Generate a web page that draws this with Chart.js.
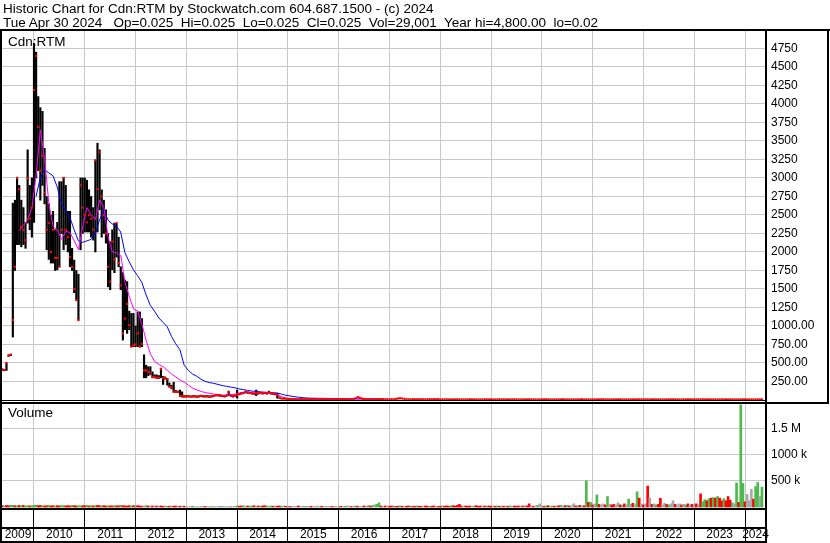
<!DOCTYPE html>
<html>
<head>
<meta charset="utf-8">
<title>Historic Chart for Cdn:RTM</title>
<script src="https://cdn.jsdelivr.net/npm/chart.js@4.4.1/dist/chart.umd.min.js"></script>
<style>
    body { margin: 0; background: #fff; }
    #wrap { position: relative; width: 830px; height: 543px; overflow: hidden; }
    #chart { position: absolute; left: 0; top: 0; }
    .txt { position: absolute; font: 13.5px 'Liberation Sans', Arial, sans-serif; line-height: 14px; color: #000; white-space: pre; }
</style>
</head>
<body>
<div id="wrap">
    <canvas id="chart" width="830" height="543"></canvas>
    <div class="txt" style="left:3px;top:2px">Historic Chart for Cdn:RTM by Stockwatch.com 604.687.1500 - (c) 2024
Tue Apr 30 2024   Op=0.025  Hi=0.025  Lo=0.025  Cl=0.025  Vol=29,001  Year hi=4,800.00  lo=0.02</div>
    <div class="txt" style="left:8px;top:35px">Cdn:RTM</div>
    <div class="txt" style="left:8px;top:406px">Volume</div>
</div>
<script>
// price data: one value every half month, starting mid May 2009
const priceStart = 2009.375;
const halfMonth = 1 / 24;

// highs and lows (bars drawn up to end of 2015, after that the range is flat)
const highs = [
    420, 410, 500, 610, 620, 2660, 2700, 3010, 2900, 2700, 2600, 2400, 3380, 2900, 3000,
    4820, 4700, 4100, 3950, 3900, 3400, 2750, 2650, 2500, 2550, 2300, 2400, 2950, 2950, 3010, 2900, 2550, 2550, 2050, 1890, 1750, 1700, 3000, 3000,
    3000, 2970, 2840, 2750, 2600, 3240, 3470, 3380, 2840, 2700, 2570, 2250, 2140, 2300, 2390, 2390, 2200, 1800, 1720, 1620, 1600, 1200, 1170, 1170,
    1000, 1190, 1190, 1100, 610, 470, 450, 450, 380, 340, 340, 330, 430, 320, 310, 290, 230, 200, 240, 130, 120, 135, 110, 60,
    60, 60, 55, 60, 60, 55, 60, 65, 60, 60, 60, 55, 60, 65, 75, 75, 70, 65, 60, 70, 120, 70, 60, 70,
    135, 90, 100, 105, 120, 110, 105, 100, 95, 135, 100, 105, 100, 105, 100, 120, 100, 95, 90, 90, 40, 25, 25, 22,
    20, 20, 16, 16, 14, 14, 16, 14, 14, 16, 14, 14, 14, 16, 14, 14, 14, 16, 14, 14, 14, 14, 16, 14
];
const lows = [
    400, 395, 400, 590, 600, 850, 1750, 2100, 2100, 2070, 2100, 2050, 2390, 2300, 2200,
    2400, 3000, 3100, 2700, 2900, 2650, 2030, 1900, 1850, 1850, 1750, 1760, 1800, 2250, 2030, 2100, 2000, 1800, 1750, 1450, 1350, 1080, 2030, 2250,
    2270, 2270, 2270, 2200, 2160, 2000, 2270, 2570, 2200, 2250, 2120, 1530, 1490, 1760, 1720, 1930, 1800, 1490, 810, 950, 900, 950, 720, 720,
    720, 720, 720, 720, 300, 300, 330, 340, 300, 300, 290, 290, 300, 210, 280, 200, 176, 150, 110, 100, 100, 50, 40, 40,
    40, 40, 40, 40, 40, 35, 40, 45, 40, 40, 40, 35, 40, 45, 55, 55, 50, 45, 40, 50, 60, 50, 40, 50,
    25, 70, 80, 85, 95, 90, 85, 80, 75, 60, 80, 85, 80, 85, 80, 90, 80, 75, 70, 25, 25, 15, 15, 14,
    12, 12, 9, 9, 8, 8, 9, 8, 8, 9, 8, 8, 8, 9, 8, 8, 8, 9, 8, 8, 8, 8, 9, 8
];
// closes, whole period
const closes = [
    410, 405, 500, 600, 610, 1080, 1800, 3000, 2850, 2340, 2300, 2160, 3000, 2450, 2600,
    4190, 4650, 3690, 3100, 3300, 2800, 2300, 2390, 2000, 2300, 1920, 1920, 1800, 2300, 3000, 2300, 2200, 1930, 1800, 1500, 1350, 1080, 2900, 2600,
    2500, 2400, 2500, 2450, 2300, 3240, 2850, 3350, 2750, 2500, 2250, 1800, 1600, 2140, 1900, 2390, 1850, 1550, 900, 1100, 1300, 1010, 720, 740,
    750, 900, 720, 760, 400, 400, 380, 360, 310, 310, 300, 300, 420, 300, 300, 280, 180, 170, 110, 110, 110, 55, 50, 45,
    50, 50, 45, 50, 50, 45, 50, 55, 50, 50, 50, 45, 50, 55, 65, 65, 60, 55, 50, 60, 110, 60, 50, 60,
    70, 80, 90, 95, 110, 100, 95, 90, 85, 95, 90, 95, 90, 95, 90, 100, 90, 85, 80, 70, 30, 20, 20, 18,
    15, 15, 12, 12, 10, 10, 12, 10, 10, 12, 10, 10, 10, 12, 10, 10, 10, 12, 10, 10, 10, 10, 12, 10,
    10, 10, 12, 10, 10, 10, 12, 10, 25, 40, 30, 20, 15, 12, 10, 10, 10, 12, 10, 10, 10, 12, 10, 10,
    10, 12, 10, 15, 20, 25, 20, 15, 12, 10, 10, 12, 10, 10, 10, 12, 10, 10, 10, 12, 10, 10, 10, 12,
    8, 8, 8, 10, 8, 8, 8, 8, 10, 8, 8, 8, 8, 8, 10, 8, 8, 8, 8, 8, 8, 10, 8, 8,
    8, 8, 8, 8, 10, 8, 8, 8, 8, 8, 8, 10, 8, 8, 8, 8, 8, 8, 10, 8, 8, 8, 8, 8,
    8, 8, 10, 8, 8, 8, 8, 8, 8, 8, 10, 8, 8, 8, 8, 8, 8, 8, 8, 10, 8, 8, 8, 8,
    8, 8, 8, 8, 8, 10, 8, 8, 8, 8, 8, 8, 8, 10, 8, 8, 8, 8, 8, 8, 8, 8, 10, 8,
    8, 10, 8, 8, 8, 8, 8, 8, 8, 8, 8, 10, 8, 8, 8, 8, 8, 8, 8, 8, 8, 10, 8, 8,
    8, 8, 8, 8, 10, 8, 8, 8, 8, 8, 8, 8, 8, 10, 8, 8, 8, 8, 8, 8, 8, 8, 8, 8,
    8, 8, 8, 8, 8, 8, 8, 8, 8
];

// moving averages, one value per month
const fastStart = 2009.71;
const slowStart = 2010.04;
const fastMA = [
    2290, 2360, 2440, 2600, 3050, 3650, 3250, 2650, 2340, 2300, 2170, 2280, 2260, 2150, 2030, 2350,
    2600, 2500, 2440, 2700, 2600, 2200, 2000, 1990, 1950, 1580, 1400, 1230, 1200, 1020, 800, 620,
    520, 480, 450, 400, 350, 310, 270, 240, 200, 160, 135, 115, 100, 90, 80, 70, 65, 65, 70, 80,
    95, 100, 105, 100, 95, 95, 95, 95, 90, 75, 45, 25, 15,
    12, 12, 12, 12, 12, 14, 16, 14, 12, 12, 12, 12, 12, 12, 12, 12, 12, 12, 12, 12, 12, 12
];
const slowMA = [
    2750, 3000, 3110, 3070, 3030, 2880, 2650, 2550, 2470, 2300, 2150, 2130, 2150, 2170, 2250, 2430,
    2570, 2430, 2380, 2350, 2270, 1990, 1870, 1760, 1680, 1590, 1420, 1280, 1200, 1110, 1050, 990,
    860, 760, 680, 470, 400, 350, 320, 280, 250, 235, 225, 210, 195, 185, 175, 165, 150, 140, 130,
    120, 115, 110, 105, 100, 98, 95, 80, 65, 55, 45, 38, 32, 27,
    25, 24, 23, 22, 21, 20, 20, 19, 18, 18, 17, 17, 16, 16, 15, 15, 15, 15
];

// volume in thousands, one bar every half month
const volumes = [
    25, 20, 30, 25, 35, 30, 25, 20, 30, 25, 30, 20, 25, 20, 25,
    30, 35, 25, 30, 25, 20, 25, 30, 20, 25, 20, 25, 20, 30, 25, 20, 25, 20, 30, 25, 20, 25, 20, 25,
    25, 30, 20, 25, 20, 25, 30, 25, 20, 25, 20, 25, 20, 20, 25, 20, 25, 30, 25, 20, 20, 25, 20, 25,
    20, 25, 20, 15, 20, 25, 20, 15, 20, 15, 20, 15, 20, 15, 20, 15, 15, 20, 15, 20, 15, 15, 20, 15,
    10, 5, 10, 15, 5, 10, 5, 10, 15, 10, 5, 10, 15, 10, 5, 10, 10, 15, 10, 5, 10, 15, 10, 10,
    20, 15, 20, 25, 15, 20, 15, 20, 25, 15, 20, 15, 20, 25, 20, 15, 20, 15, 20, 15, 20, 15, 20, 15,
    15, 10, 15, 10, 15, 20, 10, 15, 10, 15, 10, 15, 10, 15, 20, 10, 15, 10, 15, 10, 15, 10, 15, 10,
    10, 15, 10, 15, 20, 15, 10, 15, 20, 15, 10, 15, 20, 15, 25, 20, 30, 40, 50, 80, 20, 15, 20, 15,
    15, 20, 15, 10, 15, 20, 15, 10, 15, 20, 15, 10, 15, 20, 15, 10, 15, 20, 15, 10, 15, 20, 15, 10,
    15, 20, 15, 20, 15, 20, 25, 20, 30, 50, 20, 15, 20, 15, 20, 15, 20, 25, 15, 20, 15, 20, 15, 20,
    15, 20, 15, 20, 15, 20, 15, 20, 15, 20, 15, 20, 15, 20, 15, 20, 25, 20, 60, 20, 15, 20, 30, 60,
    20, 15, 20, 25, 15, 20, 15, 20, 25, 30, 20, 25, 30, 20, 25, 60, 20, 25, 30, 20, 25, 500, 90, 90,
    40, 60, 230, 50, 40, 60, 40, 200, 50, 40, 50, 40, 80, 40, 30, 60, 40, 150, 50, 70, 40, 290, 170, 60,
    40, 60, 400, 170, 50, 60, 40, 50, 165, 40, 70, 50, 40, 60, 120, 50, 40, 60, 40, 50, 40, 60, 40, 50,
    50, 60, 40, 250, 100, 140, 120, 160, 170, 180, 170, 200, 170, 120, 160, 120, 200, 130, 80, 60, 460, 90, 1950, 450,
    100, 240, 120, 340, 150, 390, 470, 200, 380
];
// u = up week (green), d = down week (red), n = unchanged (grey)
const volumeDirs = [
    'dudduudududuudu',
    'uuddudduddudduudddudduud',
    'dudududdudduddudduddddud',
    'udddnudndndnddnudnddndnd',
    'nnnunnnnndnnnnnnunnnnnnn',
    'uddunduudnduddunudnddund',
    'ndnnndnnunndnnnndnnnndnn',
    'ndnunndnudnndnudunuudndn',
    'dduddudnddudduddndduddnd',
    'dudddudddddndddnudddndud',
    'dndudndndundddndnddndnun',
    'ndudnudndundudnndudndudu',
    'dnudnndunddnndudnundnudn',
    'dndndnuddnndunndnndnudnd',
    'ndnduududududdudddunuduu',
    'dnnnduunu'
].join('');

const priceTicks = [250, 500, 750, 1000, 1250, 1500, 1750, 2000, 2250, 2500, 2750, 3000, 3250, 3500, 3750, 4000, 4250, 4500, 4750];
const volumeTicks = [500, 1000, 1500];
const volumeTickLabels = ['500 k', '1000 k', '1.5 M'];
const years = [2009, 2010, 2011, 2012, 2013, 2014, 2015, 2016, 2017, 2018, 2019, 2020, 2021, 2022, 2023, 2024];

const xMin = 2009.37;
const xMax = 2024.413;

document.addEventListener('DOMContentLoaded', function () {
    Chart.defaults.font.family = "'Liberation Sans', Arial, sans-serif";
    Chart.defaults.font.size = 12;
    Chart.defaults.color = '#000';

    const at = i => priceStart + i * halfMonth;
    const priceBars = highs.map((h, i) => ({ x: at(i), y: [lows[i], h] }));
    const closePoints = closes.map((c, i) => ({ x: at(i), y: c }));
    const fastPoints = fastMA.map((v, i) => ({ x: fastStart + i / 12, y: v }));
    const slowPoints = slowMA.map((v, i) => ({ x: slowStart + i / 12, y: v }));
    const volumeBars = volumes.map((v, i) => ({ x: at(i), y: v }));
    const dirColors = { u: '#4cbb4c', d: '#ff0000', n: '#a8a8a8' };
    const volumeColors = volumes.map((v, i) => dirColors[volumeDirs[i]] || dirColors.n);

    // year boundaries get grid lines, the middle of each visible year gets the label
    const xTicks = [];
    years.forEach(y => {
        if (y > xMin && y < xMax) xTicks.push(y);
        const a = Math.max(y, xMin), b = Math.min(y + 1, xMax);
        xTicks.push((a + b) / 2);
    });

    // black frame lines of the stockwatch layout
    const frame = {
        id: 'frame',
        afterDraw(chart) {
            const ctx = chart.ctx;
            const a = chart.chartArea;
            const py = chart.scales.y;
            ctx.save();
            ctx.fillStyle = '#000';
            ctx.fillRect(0, a.top - 2, chart.width, 2);
            ctx.fillRect(0, a.top - 2, 2, chart.height - a.top + 2);
            ctx.fillRect(a.right - 1, a.top - 2, 2, chart.height - a.top + 2);
            ctx.fillRect(chart.width - 3, a.top - 2, 2, py.bottom - a.top + 4);
            ctx.fillRect(a.left, py.getPixelForValue(0), a.width, 1);
            ctx.fillRect(0, py.bottom, chart.width - 1, 2);
            ctx.fillRect(0, a.bottom, a.right + 1, 2);
            ctx.fillRect(0, a.bottom + 19, a.right + 1, 2);
            ctx.fillRect(0, chart.height - 2, a.right + 1, 2);
            ctx.restore();
        }
    };

    new Chart(document.getElementById('chart'), {
        type: 'line',
        data: {
            datasets: [
                {
                    label: 'Close',
                    data: closePoints,
                    yAxisID: 'y',
                    showLine: false,
                    pointStyle: 'rect',
                    pointRadius: 1.5,
                    pointHoverRadius: 0,
                    pointBorderWidth: 0,
                    pointBackgroundColor: '#ff0000',
                    order: 0
                },
                {
                    label: 'Fast MA',
                    data: fastPoints,
                    yAxisID: 'y',
                    borderColor: '#ff00ff',
                    borderWidth: 1,
                    pointRadius: 0,
                    tension: 0,
                    order: 1
                },
                {
                    label: 'Slow MA',
                    data: slowPoints,
                    yAxisID: 'y',
                    borderColor: '#0000ff',
                    borderWidth: 1,
                    pointRadius: 0,
                    tension: 0,
                    order: 2
                },
                {
                    type: 'bar',
                    label: 'Range',
                    data: priceBars,
                    yAxisID: 'y',
                    backgroundColor: '#000',
                    barThickness: 1.5,
                    grouped: false,
                    order: 3
                },
                {
                    type: 'bar',
                    label: 'Volume',
                    data: volumeBars,
                    yAxisID: 'yv',
                    backgroundColor: volumeColors,
                    barThickness: 2,
                    grouped: false,
                    order: 4
                }
            ]
        },
        options: {
            responsive: false,
            animation: false,
            layout: { padding: { top: 31, left: 2, right: 2, bottom: 1 } },
            plugins: {
                legend: { display: false },
                tooltip: { enabled: false }
            },
            scales: {
                x: {
                    type: 'linear',
                    min: xMin,
                    max: xMax,
                    offset: false,
                    afterBuildTicks: s => { s.ticks = xTicks.map(v => ({ value: v })); },
                    afterFit: s => { s.height = 34; },
                    grid: {
                        offset: false,
                        color: c => (c.tick && Number.isInteger(c.tick.value)) ? '#c8c8c8' : 'rgba(0,0,0,0)',
                        tickColor: c => (c.tick && Number.isInteger(c.tick.value)) ? '#000' : 'rgba(0,0,0,0)',
                        tickLength: 34,
                        lineWidth: 1,
                        tickWidth: 1
                    },
                    border: { display: false },
                    ticks: {
                        autoSkip: false,
                        maxRotation: 0,
                        padding: -15,
                        callback: v => Number.isInteger(v) ? '' : String(Math.floor(v))
                    }
                },
                y: {
                    type: 'linear',
                    position: 'right',
                    stack: 'panels',
                    stackWeight: 371,
                    min: -27,
                    max: 4986,
                    afterBuildTicks: s => { s.ticks = priceTicks.map(v => ({ value: v })); },
                    afterFit: s => { s.width = 62; },
                    grid: { color: '#c8c8c8', drawTicks: false },
                    border: { display: false },
                    ticks: {
                        autoSkip: false,
                        padding: 5,
                        callback: v => v >= 1250 ? String(v) : v.toFixed(2)
                    }
                },
                yv: {
                    type: 'linear',
                    position: 'right',
                    stack: 'panels',
                    stackWeight: 106,
                    min: -19,
                    max: 2004,
                    afterBuildTicks: s => { s.ticks = volumeTicks.map(v => ({ value: v })); },
                    afterFit: s => { s.width = 62; },
                    grid: { color: '#c8c8c8', drawTicks: false },
                    border: { display: false },
                    ticks: {
                        autoSkip: false,
                        padding: 5,
                        callback: v => volumeTickLabels[volumeTicks.indexOf(v)]
                    }
                }
            }
        },
        plugins: [frame]
    });
});
</script>
</body>
</html>
